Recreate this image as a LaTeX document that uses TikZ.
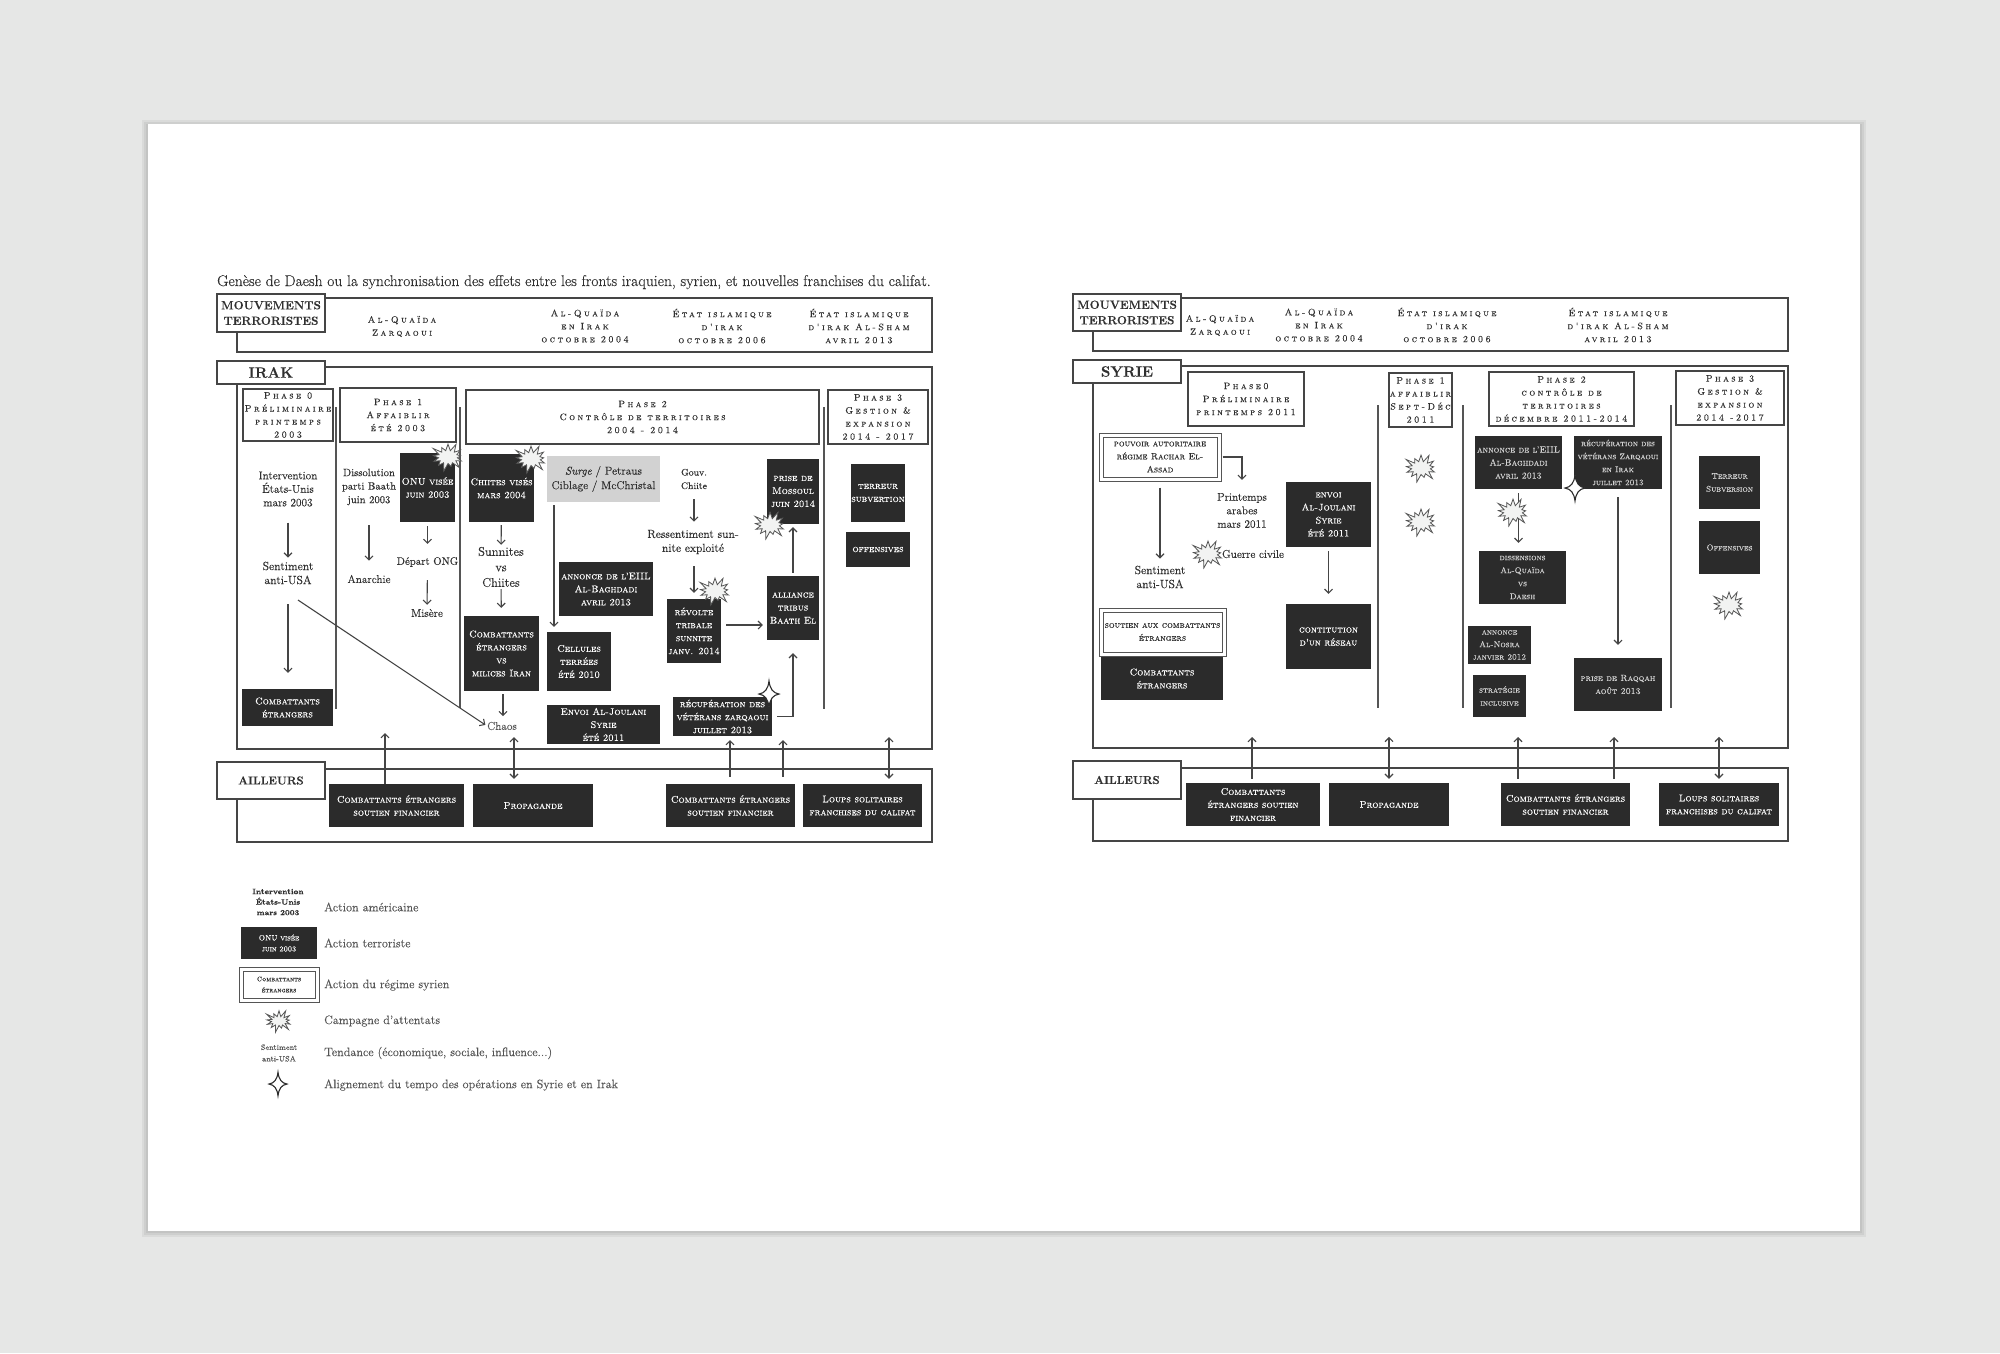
\documentclass[tikz,border=0pt]{standalone}
\usepackage{fontspec}
\setmainfont{Latin Modern Roman}[FakeBold=0.2,SmallCapsFont={Latin Modern Roman Caps},SmallCapsFeatures={FakeBold=0.2}]
\newfontfamily\trackfont{Latin Modern Roman}[FakeBold=0.2,LetterSpace=26,SmallCapsFont={Latin Modern Roman Caps},SmallCapsFeatures={FakeBold=0.2,LetterSpace=26}]
\definecolor{MyGround}{HTML}{E6E7E6}
\definecolor{MyDark}{HTML}{2B2B2B}
\definecolor{MyLine}{HTML}{454545}
\definecolor{MyText}{HTML}{303030}
\definecolor{MySoft}{HTML}{555555}
\definecolor{MySurge}{HTML}{D2D2D2}
\usetikzlibrary{arrows.meta, shapes.symbols}
\tikzset{
	frame/.style={draw=MyLine, line width=1.1pt},
	sepline/.style={draw=MySoft, line width=1.4pt},
	link/.style={draw=MyLine, line width=1.1pt, -{Straight Barb[length=4pt, width=8pt]}},
	biglink/.style={draw=MyLine, line width=1.2pt, {Straight Barb[length=4pt, width=8pt]}-{Straight Barb[length=4pt, width=8pt]}},
	darkbox/.style 2 args={fill=MyDark, text=white, inner sep=0pt, align=center, minimum width=#1pt, minimum height=#2pt, font=\fontsize{9.7}{13}\selectfont\scshape},
	softbox/.style 2 args={darkbox={#1}{#2}, text=MySurge},
	doublebox/.style 2 args={draw=MySoft, double=white, double distance=3pt, line width=1pt, text=MyText, inner sep=0pt, align=center, minimum width=#1pt, minimum height=#2pt, font=\fontsize{9}{13}\selectfont\scshape},
	tagbox/.style 2 args={draw=MyLine, line width=1.2pt, fill=white, text=MyText, inner sep=0pt, align=center, minimum width=#1pt, minimum height=#2pt, font=\fontsize{11.8}{15.5}\selectfont\bfseries},
	phasebox/.style 2 args={draw=MyLine, line width=1.1pt, fill=white, text=MyText, inner sep=0pt, align=center, minimum width=#1pt, minimum height=#2pt, font=\fontsize{9.3}{13}\selectfont\trackfont\scshape},
	headtext/.style={text=MyText, inner sep=0pt, align=center, font=\fontsize{9.3}{13}\selectfont\trackfont\scshape},
	fact/.style={text=MyText, inner sep=0pt, align=center, font=\fontsize{11.3}{13.5}\selectfont},
	tendency/.style={fact, text=MySoft},
	legendtext/.style={text=MySoft, inner sep=0pt, anchor=west, font=\fontsize{12.2}{14}\selectfont},
	burst/.style={starburst, starburst points=13, starburst point height=9pt, draw=MySoft, fill=MyGround!50, line width=0.8pt, inner sep=0pt, minimum width=37pt, minimum height=31pt},
	spark/.pic={\draw[line width=1.1pt, draw=MyDark, fill=white] (0,-13) .. controls (1,-5) and (4,-1) .. (10,0) .. controls (4,1) and (1,5) .. (0,13) .. controls (-1,5) and (-4,1) .. (-10,0) .. controls (-4,-1) and (-1,-5) .. (0,-13) -- cycle;}
}
\pgfmathsetseed{7}

\begin{document}
\begin{tikzpicture}[x=1pt, y=-1pt]
		\useasboundingbox (0,0) rectangle (2000,1353);
		\fill[MyGround] (0,0) rectangle (2000,1353);
		\foreach \spread in {6,4,2}
			\fill[black, opacity=0.05] (148-\spread,124-\spread+2) rectangle (1860+\spread,1231+\spread);
		\fill[white] (148,124) rectangle (1860,1231);
		
		% irak, frames
		\node[text=MyText, inner sep=0pt, anchor=base west, font=\fontsize{15.55}{18}\selectfont] (title) at (217,286) {Genèse de Daesh ou la synchronisation des effets entre les fronts iraquien, syrien, et nouvelles franchises du califat.};
		\draw[frame] (237,298) rectangle (932,352);
		\draw[frame] (237,367) rectangle (932,749);
		\draw[frame] (237,769) rectangle (932,842);
		\node[tagbox={108}{38}] (mouvI) at (271,313) {MOUVEMENTS\\TERRORISTES};
		\node[tagbox={108}{23}, font=\fontsize{15}{16}\selectfont\bfseries] (pays) at (271,372.5) {IRAK};
		\node[tagbox={108}{37}, font=\fontsize{11.5}{15}\selectfont\bfseries] (ailleursI) at (271,780.5) {AILLEURS};
		
		\node[headtext] (groupA) at (402,326.5) {Al-Quaïda\\Zarqaoui};
		\node[headtext] (groupB) at (585,326) {Al-Quaïda\\en Irak\\octobre 2004};
		\node[headtext] (groupC) at (722,326) {État islamique\\d'irak\\octobre 2006};
		\node[headtext] (groupD) at (859,326) {État islamique\\d'irak Al-Sham\\avril 2013};
		
		\node[phasebox={90}{52}] (phaseA) at (288,415) {Phase 0\\Préliminaire\\printemps\\2003};
		\node[phasebox={116}{54}] (phaseB) at (398,415) {Phase 1\\Affaiblir\\été 2003};
		\node[phasebox={353}{54}] (phaseC) at (642.5,417) {Phase 2\\Contrôle de territoires\\2004 - 2014};
		\node[phasebox={100}{54}] (phaseD) at (878,417) {Phase 3\\Gestion \&\\expansion\\2014 - 2017};
		
		\draw[sepline] (336,407) -- (336,709);
		\draw[sepline] (460,407) -- (460,708);
		\draw[sepline] (824,407) -- (824,709);
		
		% irak, boxes
		\node[darkbox={55}{69}] (onu) at (427.5,487.5) {ONU visée\\juin 2003};
		\node[darkbox={65}{68}] (chiitesvis) at (501.5,488) {Chiites visés\\mars 2004};
		\node[fill=MySurge, text=MyText, inner sep=0pt, align=center, minimum width=113pt, minimum height=46pt, font=\fontsize{11.4}{14.5}\selectfont] (surge) at (603.5,479) {\textit{Surge} / Petraus\\Ciblage / McChristal};
		\node[darkbox={52}{65}] (mossoul) at (793,491.5) {prise de\\Mossoul\\juin 2014};
		\node[darkbox={54}{58}] (terreur) at (878,493) {terreur\\subvertion};
		\node[darkbox={64}{35}] (offensives) at (878,549.5) {offensives};
		\node[darkbox={94}{54}] (annonce) at (606,589) {annonce de l'EIIL\\Al-Baghdadi\\avril 2013};
		\node[darkbox={64}{59}] (cellules) at (579,661.5) {Cellules\\terrées\\été 2010};
		\node[darkbox={113}{39}] (envoi) at (603.5,724.5) {Envoi Al-Joulani\\Syrie\\été 2011};
		\node[darkbox={75}{75}] (combvs) at (501.5,653.5) {Combattants\\étrangers\\vs\\milices Iran};
		\node[darkbox={91}{37}] (combetr) at (287.5,707.5) {Combattants\\étrangers};
		\node[darkbox={54}{64}] (revolte) at (694,631) {révolte\\tribale\\sunnite\\janv. 2014};
		\node[darkbox={52}{64}] (alliance) at (793,608) {alliance\\tribus\\Baath El};
		\node[darkbox={99}{39}] (recup) at (722.5,716.5) {récupération des\\vétérans zarqaoui\\juillet 2013};
		\node[darkbox={135}{43}] (soutienA) at (396.5,805.5) {Combattants étrangers\\soutien financier};
		\node[darkbox={120}{43}] (propag) at (533,805.5) {Propagande};
		\node[darkbox={129}{43}] (soutienB) at (730.5,805.5) {Combattants étrangers\\soutien financier};
		\node[darkbox={119}{43}] (loups) at (862.5,805.5) {Loups solitaires\\franchises du califat};
		
		% irak, texts
		\node[fact] (interv) at (288,489) {Intervention\\États-Unis\\mars 2003};
		\node[fact, font=\fontsize{11.8}{14}\selectfont] (sentim) at (288,573) {Sentiment\\anti-USA};
		\node[fact, font=\fontsize{10.6}{13.5}\selectfont] (dissol) at (369,487) {Dissolution\\parti Baath\\juin 2003};
		\node[fact] (anarchie) at (369,579) {Anarchie};
		\node[fact, font=\fontsize{10.8}{13.5}\selectfont] (depart) at (427.5,562) {Départ ONG};
		\node[fact] (misere) at (427,613) {Misère};
		\node[fact, font=\fontsize{12.5}{15.5}\selectfont] (sunnites) at (501,567) {Sunnites\\vs\\Chiites};
		\node[tendency] (chaos) at (502,726) {Chaos};
		\node[fact, font=\fontsize{9.5}{13.5}\selectfont] (gouv) at (694,479) {Gouv.\\Chiite};
		\node[fact, font=\fontsize{11.7}{14}\selectfont] (ressent) at (693,542) {Ressentiment sun-\\nite exploité};
		
		% irak, links
		\draw[link, shorten <=16pt, shorten >=4pt] (interv) -- (sentim);
		\draw[link, shorten <=20pt, shorten >=16pt] (sentim.south) -- (sentim.south |- combetr.north);
		\coordinate (slant) at (298,600);
		\draw[link, shorten >=2pt] (slant) -- (chaos.west);
		\draw[link, shorten <=20pt, shorten >=14pt] (dissol) -- (anarchie);
		\draw[link, shorten <=4pt, shorten >=13pt] (onu) -- (depart);
		\draw[link, shorten <=13pt, shorten >=4pt] (depart) -- (misere);
		\draw[link, shorten <=3pt, shorten >=2pt] (chiitesvis) -- (sunnites);
		\draw[link, shorten <=2pt, shorten >=8pt] (sunnites) -- (combvs);
		\draw[link, shorten <=3pt, shorten >=2pt] (combvs.south) ++(1.5,0) -- ++(0,27);
		\coordinate (surgeleg) at (554,505);
		\draw[link, shorten >=5pt] (surgeleg) -- (surgeleg |- cellules.north);
		\draw[link, shorten <=10pt, shorten >=8pt] (gouv.south) -- (gouv.south |- ressent.north);
		\draw[link, shorten <=12pt, shorten >=6pt] (ressent.south -| gouv.south) -- (revolte.north);
		\coordinate (tribal) at (726,625);
		\draw[link, shorten >=4pt] (tribal) -- (tribal -| alliance.west);
		\draw[link, shorten <=3pt, shorten >=3pt] (alliance) -- (mossoul);
		\draw[link, shorten <=5pt, shorten >=13pt] (recup.east) -| (alliance.south);
		
		\coordinate (tipA) at (385,733);
		\coordinate (tipB) at (514,737);
		\coordinate (tipC) at (730,740);
		\coordinate (tipD) at (783,740);
		\coordinate (tipE) at (889,737);
		\draw[link] (tipA |- soutienA.north) -- (tipA);
		\draw[biglink, shorten <=5pt] (tipB |- propag.north) -- (tipB);
		\draw[link, shorten <=7pt] (tipC |- soutienB.north) -- (tipC);
		\draw[link, shorten <=7pt] (tipD |- soutienB.north) -- (tipD);
		\draw[biglink, shorten <=5pt] (tipE |- loups.north) -- (tipE);
		
		\node[burst] (burstA) at (448,457) {};
		\node[burst] (burstB) at (531,459) {};
		\node[burst] (burstC) at (770,525) {};
		\node[burst] (burstD) at (715,591) {};
		\pic at (769,694) {spark};
		
		% legend
		\node[fact, font=\fontsize{7.8}{10.5}\selectfont\bfseries] (legA) at (278,902) {Intervention\\États-Unis\\mars 2003};
		\node[legendtext] (legAt) at (324,907) {Action américaine};
		\node[darkbox={76}{32}, font=\fontsize{7.6}{11}\selectfont\scshape] (legB) at (279,943) {ONU visée\\juin 2003};
		\node[legendtext] (legBt) at (324,943) {Action terroriste};
		\node[doublebox={76}{31}, font=\fontsize{6.6}{11}\selectfont\scshape] (legC) at (279,984.5) {Combattants\\étrangers};
		\node[legendtext] (legCt) at (324,985) {Action du régime syrien};
		\node[burst, minimum width=31pt, minimum height=25pt, starburst point height=8pt] (legD) at (279,1021) {};
		\node[legendtext] (legDt) at (324,1021) {Campagne d'attentats};
		\node[tendency, font=\fontsize{7.8}{11.5}\selectfont] (legE) at (279,1053) {Sentiment\\anti-USA};
		\node[legendtext] (legEt) at (324,1053) {Tendance (économique, sociale, influence...)};
		\pic[scale=0.9] at (278,1084) {spark};
		\node[legendtext] (legFt) at (324,1085) {Alignement du tempo des opérations en Syrie et en Irak};
		
		% syrie, frames
		\draw[frame] (1093,298) rectangle (1788,351);
		\draw[frame] (1093,366) rectangle (1788,748);
		\draw[frame] (1093,768) rectangle (1788,841);
		\node[tagbox={108}{37}] (mouvS) at (1127,312.5) {MOUVEMENTS\\TERRORISTES};
		\node[tagbox={108}{23}, font=\fontsize{15}{16}\selectfont\bfseries] (paysS) at (1127,371.5) {SYRIE};
		\node[tagbox={108}{38}, font=\fontsize{11.5}{15}\selectfont\bfseries] (ailleursS) at (1127,780) {AILLEURS};
		
		\node[headtext] (groupE) at (1220,325.5) {Al-Quaïda\\Zarqaoui};
		\node[headtext] (groupF) at (1319,325) {Al-Quaïda\\en Irak\\octobre 2004};
		\node[headtext] (groupG) at (1447,325) {État islamique\\d'irak\\octobre 2006};
		\node[headtext] (groupH) at (1618,325) {État islamique\\d'irak Al-Sham\\avril 2013};
		
		\node[phasebox={116}{54}] (phaseE) at (1246,399) {Phase0\\Préliminaire\\printemps 2011};
		\node[phasebox={63}{54}] (phaseF) at (1420.5,400) {Phase 1\\affaiblir\\Sept-Déc\\2011};
		\node[phasebox={145}{54}] (phaseG) at (1561.5,399) {Phase 2\\contrôle de\\territoires\\décembre 2011-2014};
		\node[phasebox={108}{54}] (phaseH) at (1730,398) {Phase 3\\Gestion \&\\expansion\\2014 -2017};
		
		\draw[sepline] (1378,405) -- (1378,708);
		\draw[sepline] (1463,405) -- (1463,708);
		\draw[sepline] (1671,405) -- (1671,708);
		
		% syrie, boxes
		\node[doublebox={118}{44}] (pouvoir) at (1160,457) {pouvoir autoritaire\\régime Rachar El-\\Assad};
		\node[doublebox={123}{44}] (soutienC) at (1162.5,632) {soutien aux combattants\\étrangers};
		\node[darkbox={122}{43}] (combS) at (1162,678.5) {Combattants\\étrangers};
		\node[darkbox={85}{65}] (envoiS) at (1328.5,514.5) {envoi\\Al-Joulani\\Syrie\\été 2011};
		\node[darkbox={85}{65}] (reseau) at (1328.5,636.5) {contitution\\d'un réseau};
		\node[softbox={87}{53}, font=\fontsize{9}{13}\selectfont\scshape] (annonceS) at (1518.5,462.5) {annonce de l'EIIL\\Al-Baghdadi\\avril 2013};
		\node[softbox={88}{53}, font=\fontsize{8.4}{13}\selectfont\scshape] (recupS) at (1618,462.5) {récupération des\\vétérans Zarqaoui\\en Irak\\juillet 2013};
		\node[softbox={87}{53}, font=\fontsize{8.4}{13}\selectfont\scshape] (dissens) at (1522.5,577.5) {dissensions\\Al-Quaïda\\vs\\Daesh};
		\node[softbox={63}{38}, font=\fontsize{8.4}{12.5}\selectfont\scshape] (nosra) at (1499.5,645) {annonce\\Al-Nosra\\janvier 2012};
		\node[softbox={53}{42}, font=\fontsize{8.4}{13}\selectfont\scshape] (strategie) at (1499.5,696) {stratégie\\inclusive};
		\node[softbox={88}{53}, font=\fontsize{9}{13}\selectfont\scshape] (raqqah) at (1618,684.5) {prise de Raqqah\\août 2013};
		\node[softbox={61}{53}, font=\fontsize{8.4}{13}\selectfont\scshape] (terreurS) at (1729.5,482.5) {Terreur\\Subversion};
		\node[softbox={61}{53}, font=\fontsize{8.4}{13}\selectfont\scshape] (offensS) at (1729.5,547.5) {Offensives};
		\node[darkbox={134}{43}] (soutienD) at (1253,804.5) {Combattants\\étrangers soutien\\financier};
		\node[darkbox={120}{43}] (propagS) at (1389,804.5) {Propagande};
		\node[darkbox={129}{43}] (soutienE) at (1565.5,804.5) {Combattants étrangers\\soutien financier};
		\node[darkbox={120}{43}] (loupsS) at (1719,804.5) {Loups solitaires\\franchises du califat};
		
		% syrie, texts
		\node[fact] (printemps) at (1242,510.5) {Printemps\\arabes\\mars 2011};
		\node[fact, font=\fontsize{11.8}{14}\selectfont] (sentimS) at (1160,577) {Sentiment\\anti-USA};
		\node[fact] (guerre) at (1253,554) {Guerre civile};
		
		% syrie, links
		\draw[link, shorten <=3pt, shorten >=13pt] (pouvoir.east) -| (printemps.north);
		\draw[link, shorten <=8pt, shorten >=7pt] (pouvoir) -- (sentimS);
		\draw[link, shorten <=4pt, shorten >=10pt] (envoiS) -- (reseau);
		\draw[link, shorten <=4pt, shorten >=8pt] (annonceS.south) -- (annonceS.south |- dissens.north);
		\draw[link, shorten <=8pt, shorten >=13pt] (recupS) -- (raqqah);
		
		\coordinate (tipF) at (1252,737);
		\coordinate (tipG) at (1518,737);
		\coordinate (tipH) at (1614,737);
		\draw[link, shorten <=4pt] (tipF |- soutienD.north) -- (tipF);
		\draw[biglink, shorten <=4pt] (propagS.north) -- ++(0,-46);
		\draw[link, shorten <=4pt] (tipG |- soutienE.north) -- (tipG);
		\draw[link, shorten <=4pt] (tipH |- soutienE.north) -- (tipH);
		\draw[biglink, shorten <=4pt] (loupsS.north) -- ++(0,-46);
		
		\node[burst] (burstE) at (1208,554) {};
		\node[burst] (burstF) at (1421,468) {};
		\node[burst] (burstG) at (1421,522) {};
		\node[burst] (burstH) at (1513,512) {};
		\node[burst] (burstI) at (1729,605) {};
		\pic at (1575,488) {spark};
	\end{tikzpicture}
\end{document}
